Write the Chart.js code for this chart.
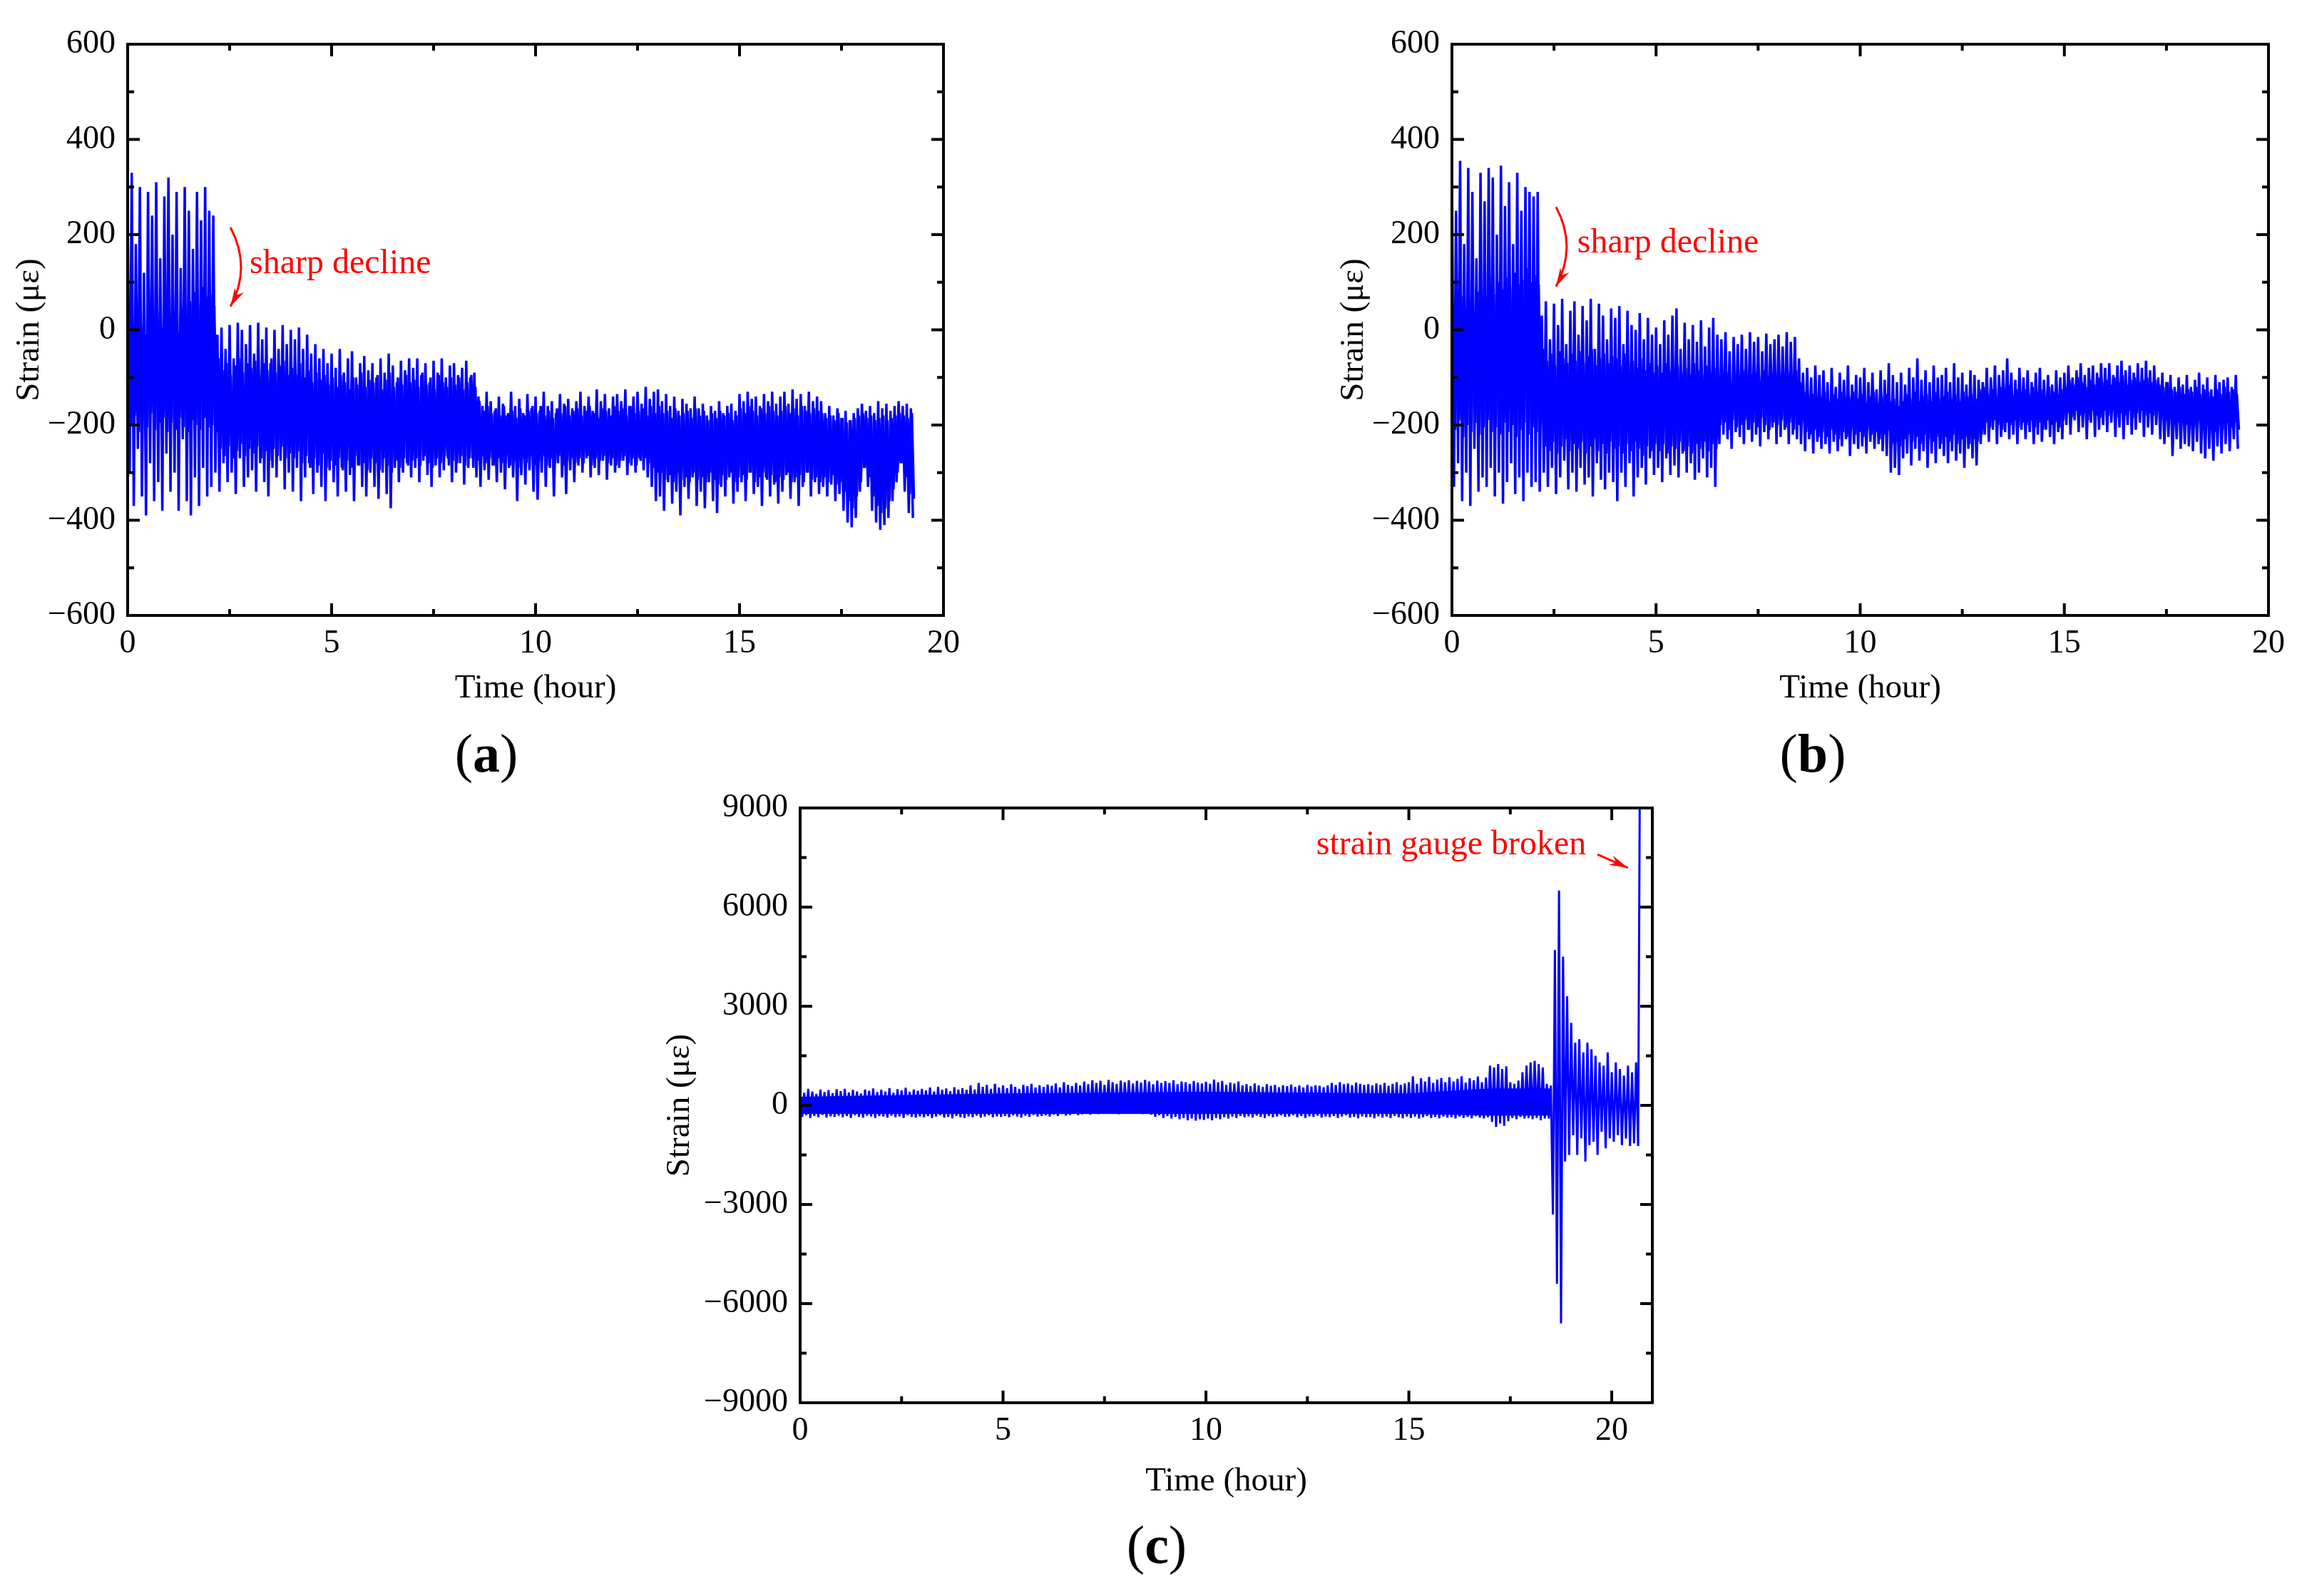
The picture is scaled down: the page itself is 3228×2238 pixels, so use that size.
<!DOCTYPE html>
<html>
<head>
<meta charset="utf-8">
<script src="https://cdn.jsdelivr.net/npm/chart.js@4.4.1/dist/chart.umd.min.js"></script>
<style>
  html, body { margin: 0; padding: 0; background: #fff; }
  body { width: 3228px; height: 2238px; position: relative; overflow: hidden; font-family: "Liberation Serif", serif; }
  canvas { position: absolute; }
  .cap { position: absolute; font-size: 76px; line-height: 1; transform: translate(-50%, -50%); white-space: nowrap; }
</style>
</head>
<body>
<canvas id="chart-a" width="1400" height="1010" style="left:0;top:0"></canvas>
<canvas id="chart-b" width="1401" height="1010" style="left:1857px;top:0"></canvas>
<canvas id="chart-c" width="1484" height="1030" style="left:910px;top:1080px"></canvas>
<div class="cap" style="left:682px;top:1056px">(<b>a</b>)</div>
<div class="cap" style="left:2542px;top:1056px">(<b>b</b>)</div>
<div class="cap" style="left:1622px;top:2166px">(<b>c</b>)</div>
<script>
const serif = "'Liberation Serif', 'Times New Roman', serif";
const hourStep = 0.1; // one crest every 0.1 h, trough half way between

// (a) tall spikes: crests at t = 0, 0.1 ... troughs at t = 0.05, 0.15 ... (one row per hour)
const hiA = [
  260, 330, 180, 300, 120, 290, 240, 310, 150, 280,
  320, 200, 290, 130, 300, 250, 170, 290, 230, 300,
  250, 240, -10, 5, -40, 10, -60, 15, 0, -30,
  10, -50, 15, -20, 5, -70, 0, -40, 10, -30,
  0, -20, 5, -40, -10, -50, -30, -60, -40, -70,
  -50, -80, -40, -90, -60, -45, -100, -70, -55, -85,
  -70, -100, -60, -90, -50, -75, -110, -65, -85, -60,
  -80, -60, -95, -70, -110, -65, -90, -60, -100, -75,
  -70, -95, -80, -65, -100, -90, -140, -160, -130, -150,
  -170, -140, -155, -180, -130, -160, -145, -175, -135, -165,
  -140, -170, -130, -160, -150, -175, -135, -155, -145, -165,
  -150, -130, -160, -140, -170, -125, -150, -135, -165, -140,
  -135, -150, -125, -160, -140, -130, -155, -120, -145, -130,
  -125, -150, -135, -160, -140, -170, -145, -155, -165, -140,
  -165, -155, -180, -160, -170, -150, -175, -160, -155, -170,
  -135, -150, -130, -145, -140, -160, -135, -150, -130, -155,
  -140, -130, -155, -125, -145, -135, -160, -130, -150, -140,
  -150, -175, -160, -180, -165, -185, -170, -190, -175, -165,
  -155, -170, -160, -175, -150, -165, -155, -170, -160, -150,
  -160, -155, -165
];
const loA = [
  -300, -370, -250, -350, -390, -280, -360, -320, -380, -260,
  -340, -300, -380, -230, -360, -390, -310, -370, -290, -350,
  -330, -300, -340, -280, -320, -300, -345, -270, -330, -310,
  -295, -340, -280, -320, -350, -290, -310, -275, -335, -300,
  -340, -290, -360, -310, -280, -345, -300, -330, -360, -295,
  -320, -350, -290, -340, -305, -360, -285, -330, -350, -300,
  -330, -355, -300, -345, -375, -290, -320, -300, -280, -310,
  -290, -320, -275, -305, -330, -285, -310, -295, -270, -320,
  -300, -280, -325, -290, -270, -310, -330, -295, -315, -285,
  -320, -300, -335, -290, -310, -360, -305, -325, -295, -340,
  -357, -300, -330, -290, -350, -280, -310, -345, -295, -320,
  -285, -300, -270, -310, -290, -305, -275, -315, -285, -300,
  -290, -275, -305, -285, -300, -270, -295, -310, -330, -360,
  -350, -380, -320, -365, -340, -390, -330, -355, -310, -370,
  -340, -375, -320, -360, -385, -330, -350, -310, -365, -340,
  -320, -360, -300, -345, -330, -370, -310, -350, -325, -365,
  -340, -305, -355, -320, -370, -330, -300, -350, -320, -345,
  -330, -350, -325, -360, -345, -380, -405, -415, -395, -340,
  -290, -330, -380, -405, -420, -410, -395, -360, -320, -280,
  -340, -385, -395
];
// (a) short spikes of the dense core: crests at t = 0.025, 0.125 ... troughs at t = 0.075, 0.175 ...
const innerHiA = [
  20, 0, 35, 10, -10, 30, 15, 40, 5, 25,
  10, 30, -5, 45, 20, 60, 80, 55, 90, 70,
  75, 50, -60, -85, -70, -95, -75, -60, -90, -70,
  -80, -65, -95, -70, -85, -60, -90, -75, -65, -95,
  -80, -95, -70, -100, -85, -110, -90, -105, -95, -115,
  -100, -120, -95, -110, -125, -100, -115, -90, -120, -105,
  -110, -95, -125, -105, -90, -120, -100, -115, -95, -110,
  -105, -120, -90, -115, -100, -125, -95, -110, -120, -100,
  -115, -100, -125, -110, -95, -120, -150, -170, -160, -175,
  -165, -180, -160, -175, -170, -185, -165, -180, -170, -160,
  -175, -160, -180, -170, -185, -165, -175, -160, -180, -170,
  -165, -180, -170, -160, -175, -185, -165, -170, -180, -160,
  -170, -165, -180, -160, -175, -170, -165, -180, -160, -175,
  -160, -175, -170, -185, -165, -180, -175, -170, -185, -165,
  -180, -170, -190, -175, -185, -170, -180, -175, -190, -180,
  -165, -175, -160, -170, -180, -165, -175, -160, -170, -180,
  -170, -160, -175, -165, -180, -160, -170, -175, -165, -170,
  -175, -185, -180, -190, -175, -185, -195, -190, -185, -180,
  -175, -185, -180, -190, -185, -180, -190, -185, -180, -175,
  -180, -185, -175
];
const innerLoA = [
  -200, -180, -215, -190, -205, -175, -210, -195, -185, -215,
  -195, -210, -185, -205, -215, -190, -200, -210, -185, -205,
  -200, -215, -250, -265, -245, -270, -255, -240, -265, -250,
  -260, -245, -270, -255, -275, -250, -265, -245, -270, -260,
  -270, -255, -280, -265, -290, -270, -285, -260, -290, -275,
  -285, -270, -295, -275, -290, -265, -285, -280, -295, -270,
  -280, -295, -270, -285, -300, -275, -290, -270, -285, -275,
  -270, -285, -265, -280, -290, -270, -280, -265, -285, -275,
  -280, -265, -285, -270, -290, -275, -265, -280, -270, -285,
  -270, -280, -265, -285, -275, -290, -270, -280, -265, -285,
  -275, -265, -285, -270, -280, -265, -285, -275, -270, -280,
  -270, -280, -265, -285, -270, -275, -265, -280, -270, -285,
  -275, -265, -280, -270, -285, -275, -270, -280, -290, -300,
  -300, -315, -305, -320, -300, -315, -310, -320, -300, -315,
  -310, -320, -300, -315, -325, -305, -315, -300, -320, -310,
  -305, -315, -300, -320, -310, -300, -315, -305, -320, -310,
  -315, -300, -320, -310, -305, -320, -300, -315, -310, -320,
  -310, -320, -305, -325, -320, -340, -360, -375, -350, -320,
  -290, -310, -350, -370, -385, -375, -360, -335, -300, -280,
  -310, -345, -355
];

// (b)
const hiB = [
  330, 250, 355, 180, 340, 290, 150, 330, 270, 340,
  320, 200, 345, 260, 310, 180, 330, 250, 300, 290,
  280, 290, 30, 60, -20, 55, 10, 65, -30, 40,
  60, -10, 50, 20, 65, -40, 55, 30, -20, 45,
  25, 50, -30, 40, 10, 0, 35, -20, 25, -10,
  5, -30, 20, -10, 30, 45, -40, 15, -20, 10,
  -25, 20, -35, 5, 25, -10, -20, -5, -45, -15,
  -30, -10, -40, -5, -25, -15, -45, -8, -30, -20,
  -10, -35, -5, -25, -15, -60, -90, -80, -100, -75,
  -95, -85, -110, -80, -120, -90, -105, -75, -115, -95,
  -100, -80, -110, -90, -125, -85, -105, -70, -95, -110,
  -90, -115, -80, -100, -60, -105, -85, -110, -75, -100,
  -95, -80, -110, -70, -100, -90, -115, -85, -95, -105,
  -110, -80, -100, -75, -95, -85, -60, -90, -105, -80,
  -100, -85, -110, -90, -80, -105, -95, -115, -85, -100,
  -90, -75, -100, -85, -70, -95, -80, -75, -90, -70,
  -80, -70, -95, -75, -65, -85, -75, -90, -70, -80,
  -65, -85, -75, -100, -90, -110, -95, -120, -100, -115,
  -95, -120, -105, -90, -115, -100, -125, -95, -110, -105,
  -100, -120, -95
];
const loB = [
  -330, -280, -360, -300, -370, -250, -340, -310, -330, -290,
  -350, -300, -365, -320, -280, -345, -310, -360, -300, -330,
  -320, -340, -300, -330, -290, -345, -310, -275, -335, -300,
  -340, -290, -325, -310, -350, -280, -315, -335, -300, -320,
  -360, -300, -330, -280, -350, -310, -290, -325, -270, -305,
  -290, -320, -270, -305, -285, -310, -260, -300, -280, -315,
  -300, -270, -310, -290, -330, -240, -220, -230, -250, -215,
  -225, -240, -210, -235, -220, -245, -215, -230, -205, -240,
  -225, -210, -240, -220, -230, -240, -255, -230, -260, -235,
  -250, -240, -260, -235, -255, -245, -230, -265, -240, -250,
  -245, -260, -235, -250, -240, -255, -265, -300, -290, -305,
  -270, -260, -285, -250, -275, -255, -290, -260, -280, -250,
  -265, -280, -255, -275, -260, -290, -250, -270, -285, -240,
  -220, -235, -210, -240, -225, -215, -230, -220, -240, -210,
  -230, -215, -240, -220, -235, -210, -225, -240, -215, -230,
  -200, -220, -190, -215, -205, -230, -195, -225, -210, -200,
  -215, -195, -225, -205, -230, -200, -220, -210, -195, -225,
  -205, -220, -200, -230, -240, -225, -265, -230, -250, -240,
  -245, -255, -235, -260, -270, -250, -275, -245, -260, -240,
  -255, -230, -250
];
const innerHiB = [
  50, 30, 70, 45, 60, 35, 80, 55, 70, 90,
  75, 100, 85, 110, 90, 120, 95, 105, 130, 100,
  115, 95, -40, -65, -50, -75, -45, -60, -70, -50,
  -65, -45, -70, -55, -40, -75, -60, -50, -70, -55,
  -60, -75, -50, -70, -65, -80, -60, -85, -70, -90,
  -75, -90, -70, -85, -95, -75, -90, -80, -95, -70,
  -85, -95, -75, -90, -80, -100, -105, -90, -110, -95,
  -100, -85, -110, -95, -90, -105, -85, -100, -110, -90,
  -95, -105, -90, -100, -85, -110, -130, -145, -135, -150,
  -140, -130, -150, -135, -145, -130, -155, -140, -130, -145,
  -135, -150, -140, -130, -155, -140, -135, -150, -145, -160,
  -150, -135, -145, -130, -150, -140, -135, -150, -130, -145,
  -140, -130, -145, -135, -150, -130, -140, -135, -145, -125,
  -120, -135, -125, -140, -120, -130, -115, -135, -125, -130,
  -125, -135, -120, -130, -125, -140, -120, -130, -135, -125,
  -120, -105, -115, -100, -110, -120, -105, -115, -100, -110,
  -105, -115, -100, -110, -95, -115, -105, -100, -110, -105,
  -100, -110, -105, -115, -120, -110, -125, -130, -120, -135,
  -125, -130, -120, -135, -125, -130, -140, -125, -135, -120,
  -130, -125, -135
];
const innerLoB = [
  -210, -190, -225, -200, -215, -195, -220, -205, -190, -215,
  -205, -220, -195, -215, -200, -225, -210, -195, -220, -205,
  -215, -200, -245, -255, -235, -260, -245, -230, -255, -240,
  -250, -235, -260, -245, -230, -255, -240, -260, -235, -250,
  -245, -260, -240, -255, -235, -250, -265, -245, -255, -240,
  -255, -240, -260, -245, -250, -235, -255, -245, -260, -240,
  -250, -235, -255, -240, -250, -200, -195, -210, -190, -205,
  -200, -190, -210, -195, -205, -185, -200, -210, -195, -200,
  -190, -205, -195, -210, -200, -190, -215, -220, -210, -225,
  -215, -225, -210, -220, -230, -215, -225, -210, -220, -215,
  -225, -210, -220, -215, -230, -220, -210, -240, -235, -245,
  -230, -220, -235, -225, -240, -220, -230, -235, -225, -240,
  -225, -235, -220, -240, -230, -225, -240, -230, -235, -220,
  -195, -205, -190, -200, -210, -195, -200, -190, -205, -195,
  -200, -190, -205, -195, -210, -190, -200, -195, -205, -190,
  -175, -185, -170, -180, -175, -190, -170, -180, -185, -170,
  -180, -170, -185, -175, -180, -170, -185, -175, -170, -180,
  -175, -180, -170, -185, -190, -185, -200, -195, -190, -200,
  -195, -205, -190, -210, -200, -205, -215, -200, -210, -195,
  -205, -195, -210
];

// (c)
const hiC = [
  450, 380, 500, 420, 350, 480, 400, 460, 370, 490,
  430, 500, 390, 470, 420, 360, 480, 440, 510, 400,
  470, 420, 520, 380, 490, 450, 530, 410, 480, 440,
  500, 450, 540, 420, 560, 470, 510, 430, 550, 480,
  520, 470, 600, 480, 680, 560, 620, 500, 650, 540,
  600, 520, 640, 560, 500, 620, 580, 650, 540, 610,
  560, 630, 590, 660, 540, 700, 620, 580, 680, 600,
  720, 640, 760, 680, 740, 620, 770, 700, 650, 750,
  700, 760, 660, 740, 690, 770, 720, 640, 750, 680,
  730, 680, 760, 640, 720, 700, 650, 740, 690, 660,
  710, 650, 780, 700, 740, 620, 690, 660, 720, 600,
  640, 580, 660, 600, 560, 640, 590, 620, 550, 610,
  580, 630, 560, 600, 540, 620, 570, 610, 590, 550,
  600, 680, 620, 700, 640, 660, 610, 690, 650, 620,
  640, 600, 660, 620, 680, 590, 650, 700, 620, 660,
  700, 880, 650, 820, 720, 860, 680, 780, 830, 700,
  850, 720, 800, 880, 690, 820, 760, 870, 700, 840,
  1200, 1150, 1250, 1100, 1180, 700, 650, 750, 1000, 1200,
  1300, 1350, 1250, 1150, 650, 600, 4700, 6500, 4500, 3300,
  2500, 1900, 2000, 1600, 1900, 1700, 1500, 1300, 1200, 1600,
  1000, 1300, 1100, 900, 1200, 1000, 1300, 12000
];
const loC = [
  -350, -300, -380, -320, -360, -290, -370, -330, -350, -310,
  -360, -320, -380, -300, -350, -370, -310, -340, -380, -320,
  -340, -370, -310, -360, -330, -380, -300, -350, -370, -330,
  -360, -320, -380, -340, -300, -370, -350, -390, -320, -360,
  -380, -330, -360, -310, -370, -340, -300, -360, -330, -350,
  -320, -360, -300, -340, -370, -310, -350, -290, -340, -320,
  -300, -340, -280, -320, -260, -310, -290, -250, -300, -270,
  -240, -280, -200, -260, -230, -180, -250, -210, -270, -220,
  -200, -250, -180, -230, -260, -210, -280, -350, -300, -380,
  -320, -400, -350, -420, -380, -450, -400, -460, -420, -440,
  -400, -450, -380, -420, -360, -400, -340, -380, -320, -360,
  -330, -370, -310, -350, -380, -320, -360, -340, -300, -350,
  -340, -300, -360, -320, -380, -330, -350, -310, -370, -340,
  -360, -320, -380, -340, -300, -370, -350, -390, -330, -360,
  -350, -390, -330, -370, -340, -380, -320, -360, -390, -340,
  -380, -340, -400, -360, -320, -380, -350, -390, -340, -370,
  -360, -400, -340, -380, -350, -390, -330, -370, -400, -360,
  -500, -650, -550, -620, -480, -380, -420, -350, -400, -380,
  -420, -380, -450, -400, -400, -3300, -5400, -6600, -1700, -1500,
  -900, -1500, -1000, -1700, -1200, -1100, -1500, -800, -1300, -1000,
  -1100, -900, -1200, -1000, -1230, -1150, -1230
];
// (c) dense core band
const coreTimeC = [0, 5, 10, 15, 17, 18.5];
const coreHiC = [250, 350, 400, 350, 500, 500];
const coreLoC = [-250, -250, -250, -250, -300, -300];

// axes
const xTicks20 = [0, 5, 10, 15, 20];
const xMinor20 = [2.5, 7.5, 12.5, 17.5];
const yTicksAB = [-600, -400, -200, 0, 200, 400, 600];
const yMinorAB = [-500, -300, -100, 100, 300, 500];
const yTicksC = [-9000, -6000, -3000, 0, 3000, 6000, 9000];
const yMinorC = [-7500, -4500, -1500, 1500, 4500, 7500];

function zigzag(hi, lo, offset) {
  const points = [];
  hi.forEach((v, i) => {
    points.push({ x: (i + offset) * hourStep, y: v });
    if (i < lo.length) points.push({ x: (i + offset + 0.5) * hourStep, y: lo[i] });
  });
  return points;
}

function band(times, values) {
  return times.map((t, i) => ({ x: t, y: values[i] }));
}

const framePlugin = {
  id: 'frame',
  afterDraw(chart, args, opts) {
    const { ctx, chartArea: a, scales: { x, y } } = chart;
    ctx.save();
    ctx.strokeStyle = '#000';
    ctx.lineWidth = 4;
    ctx.beginPath();
    const vTick = (v, len) => {
      const px = x.getPixelForValue(v);
      ctx.moveTo(px, a.bottom); ctx.lineTo(px, a.bottom - len);
      ctx.moveTo(px, a.top); ctx.lineTo(px, a.top + len);
    };
    const hTick = (v, len) => {
      const py = y.getPixelForValue(v);
      ctx.moveTo(a.left, py); ctx.lineTo(a.left + len, py);
      ctx.moveTo(a.right, py); ctx.lineTo(a.right - len, py);
    };
    opts.xMajor.forEach(v => vTick(v, 17));
    opts.xMinor.forEach(v => vTick(v, 9));
    opts.yMajor.forEach(v => hTick(v, 17));
    opts.yMinor.forEach(v => hTick(v, 9));
    ctx.stroke();
    ctx.strokeRect(a.left, a.top, a.right - a.left, a.bottom - a.top);

    // red annotation
    const n = opts.note;
    const pt = p => [x.getPixelForValue(p[0]), y.getPixelForValue(p[1])];
    ctx.fillStyle = '#ff0000';
    ctx.strokeStyle = '#ff0000';
    ctx.lineWidth = 3;
    ctx.font = '48px ' + serif;
    ctx.textAlign = n.align;
    ctx.textBaseline = 'alphabetic';
    const tp = pt(n.textAt);
    ctx.fillText(n.text, tp[0], tp[1]);
    const p0 = pt(n.from), p1 = pt(n.to);
    const c = n.ctrl ? pt(n.ctrl) : null;
    ctx.beginPath();
    ctx.moveTo(p0[0], p0[1]);
    if (c) ctx.quadraticCurveTo(c[0], c[1], p1[0], p1[1]);
    else ctx.lineTo(p1[0], p1[1]);
    ctx.stroke();
    const back = c || p0;
    const ang = Math.atan2(p1[1] - back[1], p1[0] - back[0]);
    const len = 26, half = 7;
    ctx.beginPath();
    ctx.moveTo(p1[0], p1[1]);
    ctx.lineTo(p1[0] - len * Math.cos(ang) + half * Math.sin(ang), p1[1] - len * Math.sin(ang) - half * Math.cos(ang));
    ctx.lineTo(p1[0] - len * 0.7 * Math.cos(ang), p1[1] - len * 0.7 * Math.sin(ang));
    ctx.lineTo(p1[0] - len * Math.cos(ang) - half * Math.sin(ang), p1[1] - len * Math.sin(ang) + half * Math.cos(ang));
    ctx.closePath();
    ctx.fill();
    ctx.restore();
  }
};

function makeChart(id, p) {
  const tickFont = { family: serif, size: 46 };
  const titleFont = { family: serif, size: 47 };
  const line = { fill: false, borderColor: '#0000ff', borderJoinStyle: 'bevel', pointRadius: 0, tension: 0, clip: 0 };
  const datasets = [
    { ...line, data: zigzag(p.hi, p.lo, 0), borderWidth: p.lineWidth }
  ];
  if (p.innerHi) datasets.push({ ...line, data: zigzag(p.innerHi, p.innerLo, 0.25), borderWidth: p.lineWidth });
  if (p.coreTime) {
    datasets.push(
      { ...line, data: band(p.coreTime, p.coreHi), fill: '+1', backgroundColor: '#0000ff', borderWidth: 1 },
      { ...line, data: band(p.coreTime, p.coreLo), borderWidth: 1 }
    );
  }
  return new Chart(document.getElementById(id), {
    type: 'line',
    data: { datasets },
    options: {
      responsive: false,
      animation: false,
      devicePixelRatio: 1,
      layout: { padding: { top: p.padTop, right: 77, left: 0, bottom: 0 } },
      plugins: {
        legend: { display: false },
        tooltip: { enabled: false },
        frame: { xMajor: xTicks20, xMinor: xMinor20, yMajor: p.yTicks, yMinor: p.yMinor, note: p.note }
      },
      scales: {
        x: {
          type: 'linear', min: 0, max: p.xMax,
          afterBuildTicks: s => { s.ticks = xTicks20.map(v => ({ value: v })); },
          afterFit: s => { s.height = p.xAxisHeight; },
          grid: { display: false, drawTicks: false },
          border: { display: false },
          ticks: { font: tickFont, color: '#000', padding: 12, maxRotation: 0, autoSkip: false },
          title: { display: true, text: 'Time (hour)', font: titleFont, color: '#000', padding: { top: 0, bottom: p.xTitlePad } }
        },
        y: {
          type: 'linear', min: p.yTicks[0], max: p.yTicks[p.yTicks.length - 1],
          afterBuildTicks: s => { s.ticks = p.yTicks.map(v => ({ value: v })); },
          afterFit: s => { s.width = p.yAxisWidth; },
          grid: { display: false, drawTicks: false },
          border: { display: false },
          ticks: { font: tickFont, color: '#000', padding: 17, autoSkip: false, callback: v => String(v).replace('-', '\u2212') },
          title: { display: true, text: 'Strain (με)', font: titleFont, color: '#000', padding: { top: p.yTitlePad, bottom: 0 } }
        }
      }
    },
    plugins: [framePlugin]
  });
}

makeChart('chart-a', {
  hi: hiA, lo: loA, innerHi: innerHiA, innerLo: innerLoA, lineWidth: 3.5,
  xMax: 20, yTicks: yTicksAB, yMinor: yMinorAB,
  padTop: 62, xAxisHeight: 147, yAxisWidth: 179, xTitlePad: 16, yTitlePad: 13,
  note: { text: 'sharp decline', align: 'left', textAt: [2.99, 119], from: [2.52, 215], ctrl: [3.04, 131], to: [2.52, 49] }
});

makeChart('chart-b', {
  hi: hiB, lo: loB, innerHi: innerHiB, innerLo: innerLoB, lineWidth: 3.5,
  xMax: 20, yTicks: yTicksAB, yMinor: yMinorAB,
  padTop: 62, xAxisHeight: 147, yAxisWidth: 179, xTitlePad: 16, yTitlePad: 13,
  note: { text: 'sharp decline', align: 'left', textAt: [3.07, 163], from: [2.55, 258], ctrl: [3.07, 175], to: [2.55, 91] }
});

makeChart('chart-c', {
  hi: hiC, lo: loC, coreTime: coreTimeC, coreHi: coreHiC, coreLo: coreLoC, lineWidth: 3,
  xMax: 21, yTicks: yTicksC, yMinor: yMinorC,
  padTop: 53, xAxisHeight: 143, yAxisWidth: 212, xTitlePad: 4, yTitlePad: 15,
  note: { text: 'strain gauge broken', align: 'right', textAt: [19.37, 7597], from: [19.65, 7597], to: [20.40, 7187] }
});
</script>
</body>
</html>
